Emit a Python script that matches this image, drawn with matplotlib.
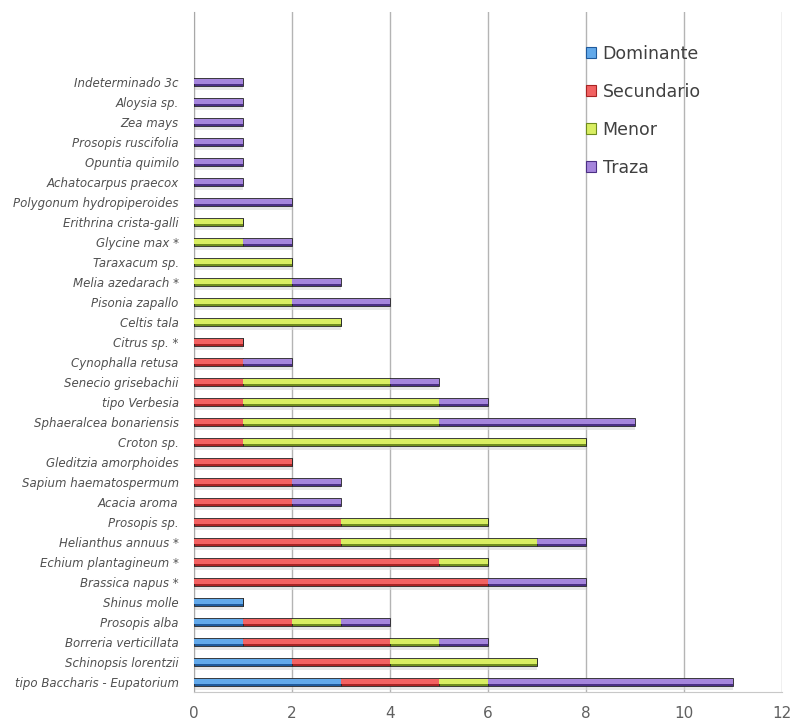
import matplotlib
matplotlib.use("Agg")
import matplotlib.pyplot as plt
import numpy as np
from matplotlib.patches import Patch

# Species, listed from the bottom of the chart to the top
species = [
    "tipo Baccharis - Eupatorium",
    "Schinopsis lorentzii",
    "Borreria verticillata",
    "Prosopis alba",
    "Shinus molle",
    "Brassica napus *",
    "Echium plantagineum *",
    "Helianthus annuus *",
    "Prosopis sp.",
    "Acacia aroma",
    "Sapium haematospermum",
    "Gleditzia amorphoides",
    "Croton sp.",
    "Sphaeralcea bonariensis",
    "tipo Verbesia",
    "Senecio grisebachii",
    "Cynophalla retusa",
    "Citrus sp. *",
    "Celtis tala",
    "Pisonia zapallo",
    "Melia azedarach *",
    "Taraxacum sp.",
    "Glycine max *",
    "Erithrina crista-galli",
    "Polygonum hydropiperoides",
    "Achatocarpus praecox",
    "Opuntia quimilo",
    "Prosopis ruscifolia",
    "Zea mays",
    "Aloysia sp.",
    "Indeterminado 3c",
]

dominante =  [3, 2, 1, 1, 1, 0, 0, 0, 0, 0, 0, 0, 0, 0, 0, 0, 0, 0, 0, 0, 0, 0, 0, 0, 0, 0, 0, 0, 0, 0, 0]
secundario = [2, 2, 3, 1, 0, 6, 5, 3, 3, 2, 2, 2, 1, 1, 1, 1, 1, 1, 0, 0, 0, 0, 0, 0, 0, 0, 0, 0, 0, 0, 0]
menor =      [1, 3, 1, 1, 0, 0, 1, 4, 3, 0, 0, 0, 7, 4, 4, 3, 0, 0, 3, 2, 2, 2, 1, 1, 0, 0, 0, 0, 0, 0, 0]
traza =      [5, 0, 1, 1, 0, 2, 0, 1, 0, 1, 1, 0, 0, 4, 1, 1, 1, 0, 0, 2, 1, 0, 1, 0, 2, 1, 1, 1, 1, 1, 1]

series_names = ["Dominante", "Secundario", "Menor", "Traza"]
series_values = [dominante, secundario, menor, traza]

# (light face, dark shade) per series
light = ["#62a9ea", "#f26262", "#d9ee62", "#a585dc"]
dark = ["#1f5a9c", "#a82424", "#6f8c1e", "#4b2f84"]

fig = plt.figure(figsize=(7.96, 7.24), dpi=100)
ax = fig.add_axes([0.2437, 0.0442, 0.9824 - 0.2437, 0.9834 - 0.0442])

y = np.arange(len(species))
h = 0.44
left = np.zeros(len(species))
for name, vals, lc, dc in zip(series_names, series_values, light, dark):
    vals = np.array(vals, dtype=float)
    # soft drop shadow under each segment
    ax.barh(y - 0.17, vals, height=h, left=left, color="#d8d8d8",
            edgecolor="none", zorder=2, alpha=0.6)
    # darker body with shaded edges
    ax.barh(y, vals, height=h, left=left, color=dc, edgecolor="#2a2a2a",
            linewidth=0.6, zorder=3)
    # lighter upper face
    ax.barh(y + h * 0.08, vals, height=h * 0.55, left=left, color=lc,
            edgecolor="none", zorder=4)
    left += vals

ax.set_xlim(0, 12)
ax.set_ylim(-0.5, 33.5)
ax.set_xticks(np.arange(0, 13, 2))
ax.set_yticks(y)
ax.set_yticklabels(species, fontstyle="italic", fontsize=8.5, color="#505050")
ax.tick_params(axis="y", length=0, pad=11)
ax.tick_params(axis="x", length=0, pad=10, labelsize=11, labelcolor="#606060")

ax.grid(axis="x", color="#b4b4b4", linewidth=1.0, zorder=0)
ax.set_axisbelow(True)
for s in ["top", "right"]:
    ax.spines[s].set_visible(False)
ax.spines["left"].set_color("#a8a8a8")
ax.spines["bottom"].set_color("#c8c8c8")

handles = [Patch(facecolor=lc, edgecolor=dc, linewidth=0.8) for lc, dc in zip(light, dark)]
leg = ax.legend(handles, series_names, loc="upper left",
                bbox_to_anchor=(0.655, 0.962), frameon=False,
                fontsize=12.5, labelspacing=1.15, handlelength=0.6,
                handleheight=0.6, handletextpad=0.35, borderaxespad=0)
for t in leg.get_texts():
    t.set_color("#404040")

fig.savefig("out.png", dpi=100)
